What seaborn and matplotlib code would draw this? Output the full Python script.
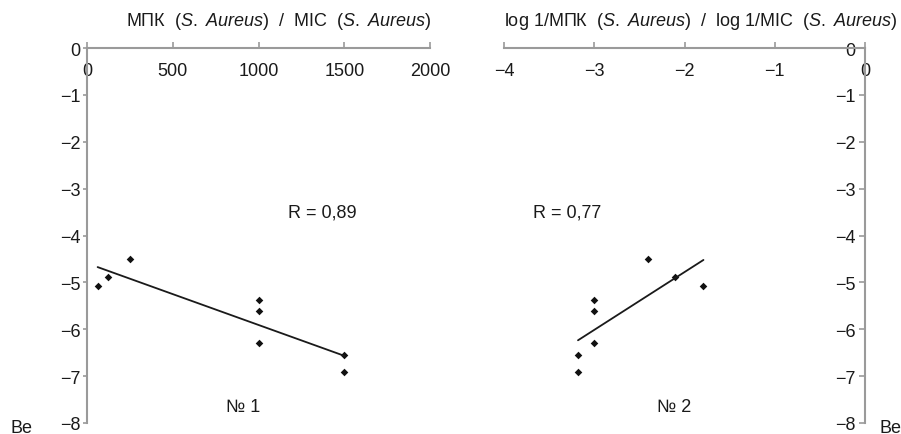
import matplotlib
matplotlib.use("Agg")
import matplotlib.pyplot as plt
import seaborn as sns

# MIC values (S. aureus) and Be for the eight compounds
mic = [62, 125, 250, 1000, 1000, 1000, 1500, 1500]
log_inv_mic = [-1.79, -2.10, -2.40, -3.00, -3.00, -3.00, -3.18, -3.18]
be = [-5.07, -4.88, -4.50, -5.38, -5.62, -6.30, -6.55, -6.91]

x1_ticks = [0, 500, 1000, 1500, 2000]
x2_ticks = [-4, -3, -2, -1, 0]
y_ticks = [0, -1, -2, -3, -4, -5, -6, -7, -8]

sns.set_style("white")
plt.rcParams["font.family"] = ["Liberation Sans", "DejaVu Sans"]
plt.rcParams["mathtext.fontset"] = "custom"
plt.rcParams["mathtext.it"] = "Liberation Sans:italic"
plt.rcParams["mathtext.rm"] = "Liberation Sans"

AXIS_COLOR = "#9a9a9a"
TEXT_COLOR = "#1a1a1a"
FS = 13


def style_axes(ax, xlim, xticks, ytick_len, ytick_pad):
    ax.set_xlim(*xlim)
    ax.set_ylim(-8, 0)
    ax.set_xticks(xticks)
    ax.set_yticks(y_ticks)
    ax.set_xticklabels([str(t).replace("-", "\u2212") for t in xticks])
    ax.set_yticklabels([str(t).replace("-", "\u2212") for t in y_ticks])
    # axes cross at zero: x axis along the top, y axis on the zero side
    ax.spines["bottom"].set_position(("data", 0))
    ax.spines["left"].set_position(("data", 0))
    ax.spines["top"].set_visible(False)
    ax.spines["right"].set_visible(False)
    for side in ("bottom", "left"):
        ax.spines[side].set_color(AXIS_COLOR)
        ax.spines[side].set_linewidth(1.5)
    ax.tick_params(axis="x", direction="in", length=4, width=1.2, color=AXIS_COLOR,
                   pad=10, labelsize=FS, labelcolor=TEXT_COLOR, bottom=True)
    ax.tick_params(axis="y", direction="out", length=ytick_len, width=1.2, color=AXIS_COLOR,
                   pad=ytick_pad, labelsize=FS, labelcolor=TEXT_COLOR, left=True)
    ax.set_xlabel("")
    ax.set_ylabel("")
    ax.patch.set_alpha(0)


fig = plt.figure(figsize=(9.01, 4.35), dpi=100)
ax1 = fig.add_axes([87 / 901, 1 - 424 / 435, 343 / 901, 375 / 435])
ax2 = fig.add_axes([504 / 901, 1 - 424 / 435, 361 / 901, 375 / 435])

for ax, xv in ((ax1, mic), (ax2, log_inv_mic)):
    sns.regplot(x=xv, y=be, ax=ax, ci=None, marker="D",
                scatter_kws={"s": 15, "color": "#111111", "linewidths": 0, "alpha": 1},
                line_kws={"color": TEXT_COLOR, "linewidth": 1.3})

style_axes(ax1, (0, 2000), x1_ticks, 3, 1.5)
style_axes(ax2, (-4, 0), x2_ticks, 4, 3)

ax1.text(0.56, 1.072, r"МПК  ($\mathit{S.}$ $\mathit{Aureus}$)  /  MIC  ($\mathit{S.}$ $\mathit{Aureus}$)",
         transform=ax1.transAxes, ha="center", va="center", fontsize=FS, color=TEXT_COLOR)
ax2.text(0.544, 1.072, r"log 1/МПК  ($\mathit{S.}$ $\mathit{Aureus}$)  /  log 1/MIC  ($\mathit{S.}$ $\mathit{Aureus}$)",
         transform=ax2.transAxes, ha="center", va="center", fontsize=FS, color=TEXT_COLOR)

ax1.text(1370, -3.49, "R = 0,89", ha="center", va="center", fontsize=FS, color=TEXT_COLOR)
ax2.text(-3.30, -3.49, "R = 0,77", ha="center", va="center", fontsize=FS, color=TEXT_COLOR)
ax1.text(910, -7.64, "№ 1", ha="center", va="center", fontsize=FS, color=TEXT_COLOR)
ax2.text(-2.12, -7.64, "№ 2", ha="center", va="center", fontsize=FS, color=TEXT_COLOR)

ax1.text(-0.19, -0.011, "Be", transform=ax1.transAxes, ha="center", va="center",
         fontsize=FS, color=TEXT_COLOR)
ax2.text(1.072, -0.011, "Be", transform=ax2.transAxes, ha="center", va="center",
         fontsize=FS, color=TEXT_COLOR)

fig.savefig("out.png", dpi=100)
